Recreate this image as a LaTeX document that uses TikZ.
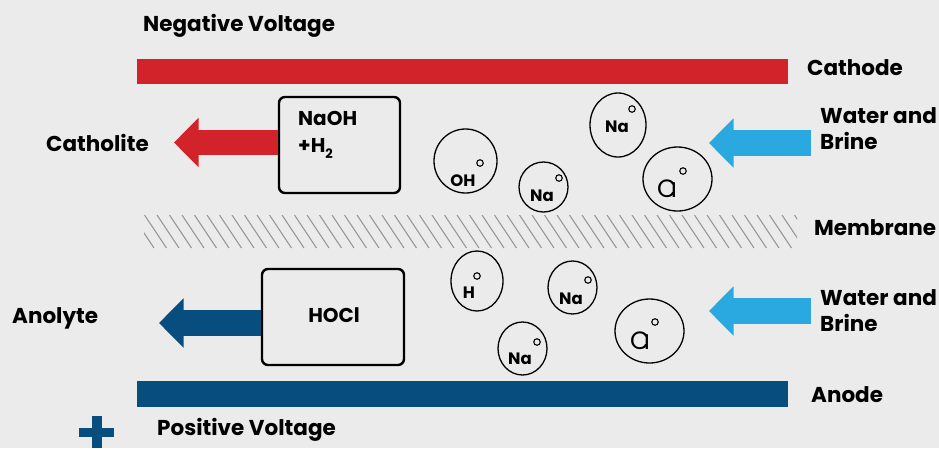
\documentclass[tikz,border=0pt]{standalone}
\usepackage{fontspec}
\setmainfont{Poppins}
\usetikzlibrary{positioning, arrows.meta, shapes.geometric}

\definecolor{bggray}{HTML}{EBEBEB}
\definecolor{cathred}{HTML}{D2232A}
\definecolor{anodeblue}{HTML}{074E7E}
\definecolor{brineblue}{HTML}{29A9E0}
\definecolor{hatchgray}{HTML}{959595}

\begin{document}
\begin{tikzpicture}[
    x=1pt, y=-1pt,
    lbl/.style={font=\fontsize{21.5}{26}\selectfont\bfseries, inner sep=0pt, align=left},
    bar/.style={draw=none, inner sep=0pt, minimum height=25.5pt},
    cellbox/.style={draw, rounded corners=6pt, line width=2.4pt, inner sep=0pt},
    boxtxt/.style={font=\fontsize{20}{27}\selectfont\bfseries, inner sep=0pt, align=left},
    ion/.style={draw, ellipse, line width=1.3pt, inner sep=0pt},
    charge/.style={draw, circle, line width=1.1pt, minimum size=6.5pt, inner sep=0pt},
    ionlbl/.style={font=\fontsize{16.5}{18}\selectfont\bfseries, inner sep=0pt},
    cllbl/.style={font=\fontsize{25}{26}\selectfont, inner sep=0pt},
    flow/.style={line width=25.5pt, -{Triangle[length=24.5pt, width=48pt]}},
    hatch/.style={draw=hatchgray, line width=1pt},
]
\useasboundingbox[fill=bggray] (0,0) rectangle (939,448);

% --- Electrodes ---
\node[lbl, anchor=base west] (neg) at (143,31) {Negative Voltage};
\node[bar, fill=cathred, minimum width=651pt] (cathode) at (462.5,71.5) {};
\node[lbl, anchor=base west] (cathlbl) at (807,75) {Cathode};

\node[bar, fill=anodeblue, minimum width=651pt] (anode) at (462.5,394) {};
\node[lbl, anchor=base west] (anlbl) at (811,402) {Anode};
\node[lbl, anchor=base west] (pos) at (157,435) {Positive Voltage};
% plus sign
\fill[anodeblue] (79,428) rectangle (114,437);
\fill[anodeblue] (92,416) rectangle (102,448);

% --- Membrane ---
\begin{scope}
  \clip (144,215) rectangle (797,248);
  \foreach \x in {107,119.5,...,800}
    \draw[hatch] (\x,215) -- ++(22,33);
\end{scope}
\node[lbl, anchor=base west] (memlbl) at (814,235) {Membrane};

% --- Products ---
\node[cellbox, minimum width=121pt, minimum height=96pt] (naoh) at (339.5,145) {};
\node[boxtxt, anchor=north west] (naohtxt) at (298,111)
  {NaOH\\+H\raisebox{-6pt}{\fontsize{13}{13}\selectfont 2}};
\node[lbl, anchor=base west] (catholite) at (46,151) {Catholite};
\coordinate (cathtip) at (174,142.5);
\draw[flow, cathred] (naoh.west |- cathtip) -- (cathtip);

\node[cellbox, minimum width=142pt, minimum height=96pt] (hocl) at (333,317) {};
\node[boxtxt, anchor=base] (hocltxt) at (334,322) {HOCl};
\node[lbl, anchor=base west] (anolyte) at (12,323) {Anolyte};
\coordinate (antip) at (159,323);
\draw[flow, anodeblue] (hocl.west |- antip) -- (antip);

% --- Feed ---
\node[lbl, anchor=west] (brine1) at (820,129) {Water and\\Brine};
\coordinate (b1tail) at (811,143);
\coordinate (b1tip) at (709,143);
\draw[flow, brineblue] (b1tail) -- (b1tip);

\node[lbl, anchor=west] (brine2) at (820,311) {Water and\\Brine};
\coordinate (b2tail) at (811,311);
\coordinate (b2tip) at (709,311);
\draw[flow, brineblue] (b2tail) -- (b2tip);

% --- Ions, cathode side ---
\node[ion, minimum width=63pt, minimum height=64pt] (oh) at (465.5,161) {};
\node[charge] at (480,163) {};
\node[ionlbl] at (463,181) {OH};

\node[ion, minimum width=49pt, minimum height=50pt] (na1) at (543.5,187) {};
\node[charge] at (559,178) {};
\node[ionlbl] at (542,196) {Na};

\node[ion, minimum width=56pt, minimum height=64pt] (na2) at (618,125) {};
\node[charge] at (632,109) {};
\node[ionlbl] at (617,127) {Na};

\node[ion, minimum width=69pt, minimum height=64pt] (cl1) at (677.5,179) {};
\node[charge] at (683,171) {};
\node[cllbl, anchor=base] at (667,197) {C\kern-.22em\scalebox{1}[.8]{l}};

% --- Ions, anode side ---
\node[ion, minimum width=52pt, minimum height=60pt] (h) at (477,281) {};
\node[charge] at (477,276) {};
\node[ionlbl] at (469,293) {H};

\node[ion, minimum width=49pt, minimum height=53pt] (na3) at (572.5,287.5) {};
\node[charge] at (588,280) {};
\node[ionlbl] at (571,299) {Na};

\node[ion, minimum width=49pt, minimum height=53pt] (na4) at (522.5,348.5) {};
\node[charge] at (537,342) {};
\node[ionlbl] at (520,359) {Na};

\node[ion, minimum width=69pt, minimum height=64pt] (cl2) at (649.5,331) {};
\node[charge] at (655,322) {};
\node[cllbl, anchor=base] at (640,349) {C\kern-.22em\scalebox{1}[.8]{l}};
\end{tikzpicture}
\end{document}
